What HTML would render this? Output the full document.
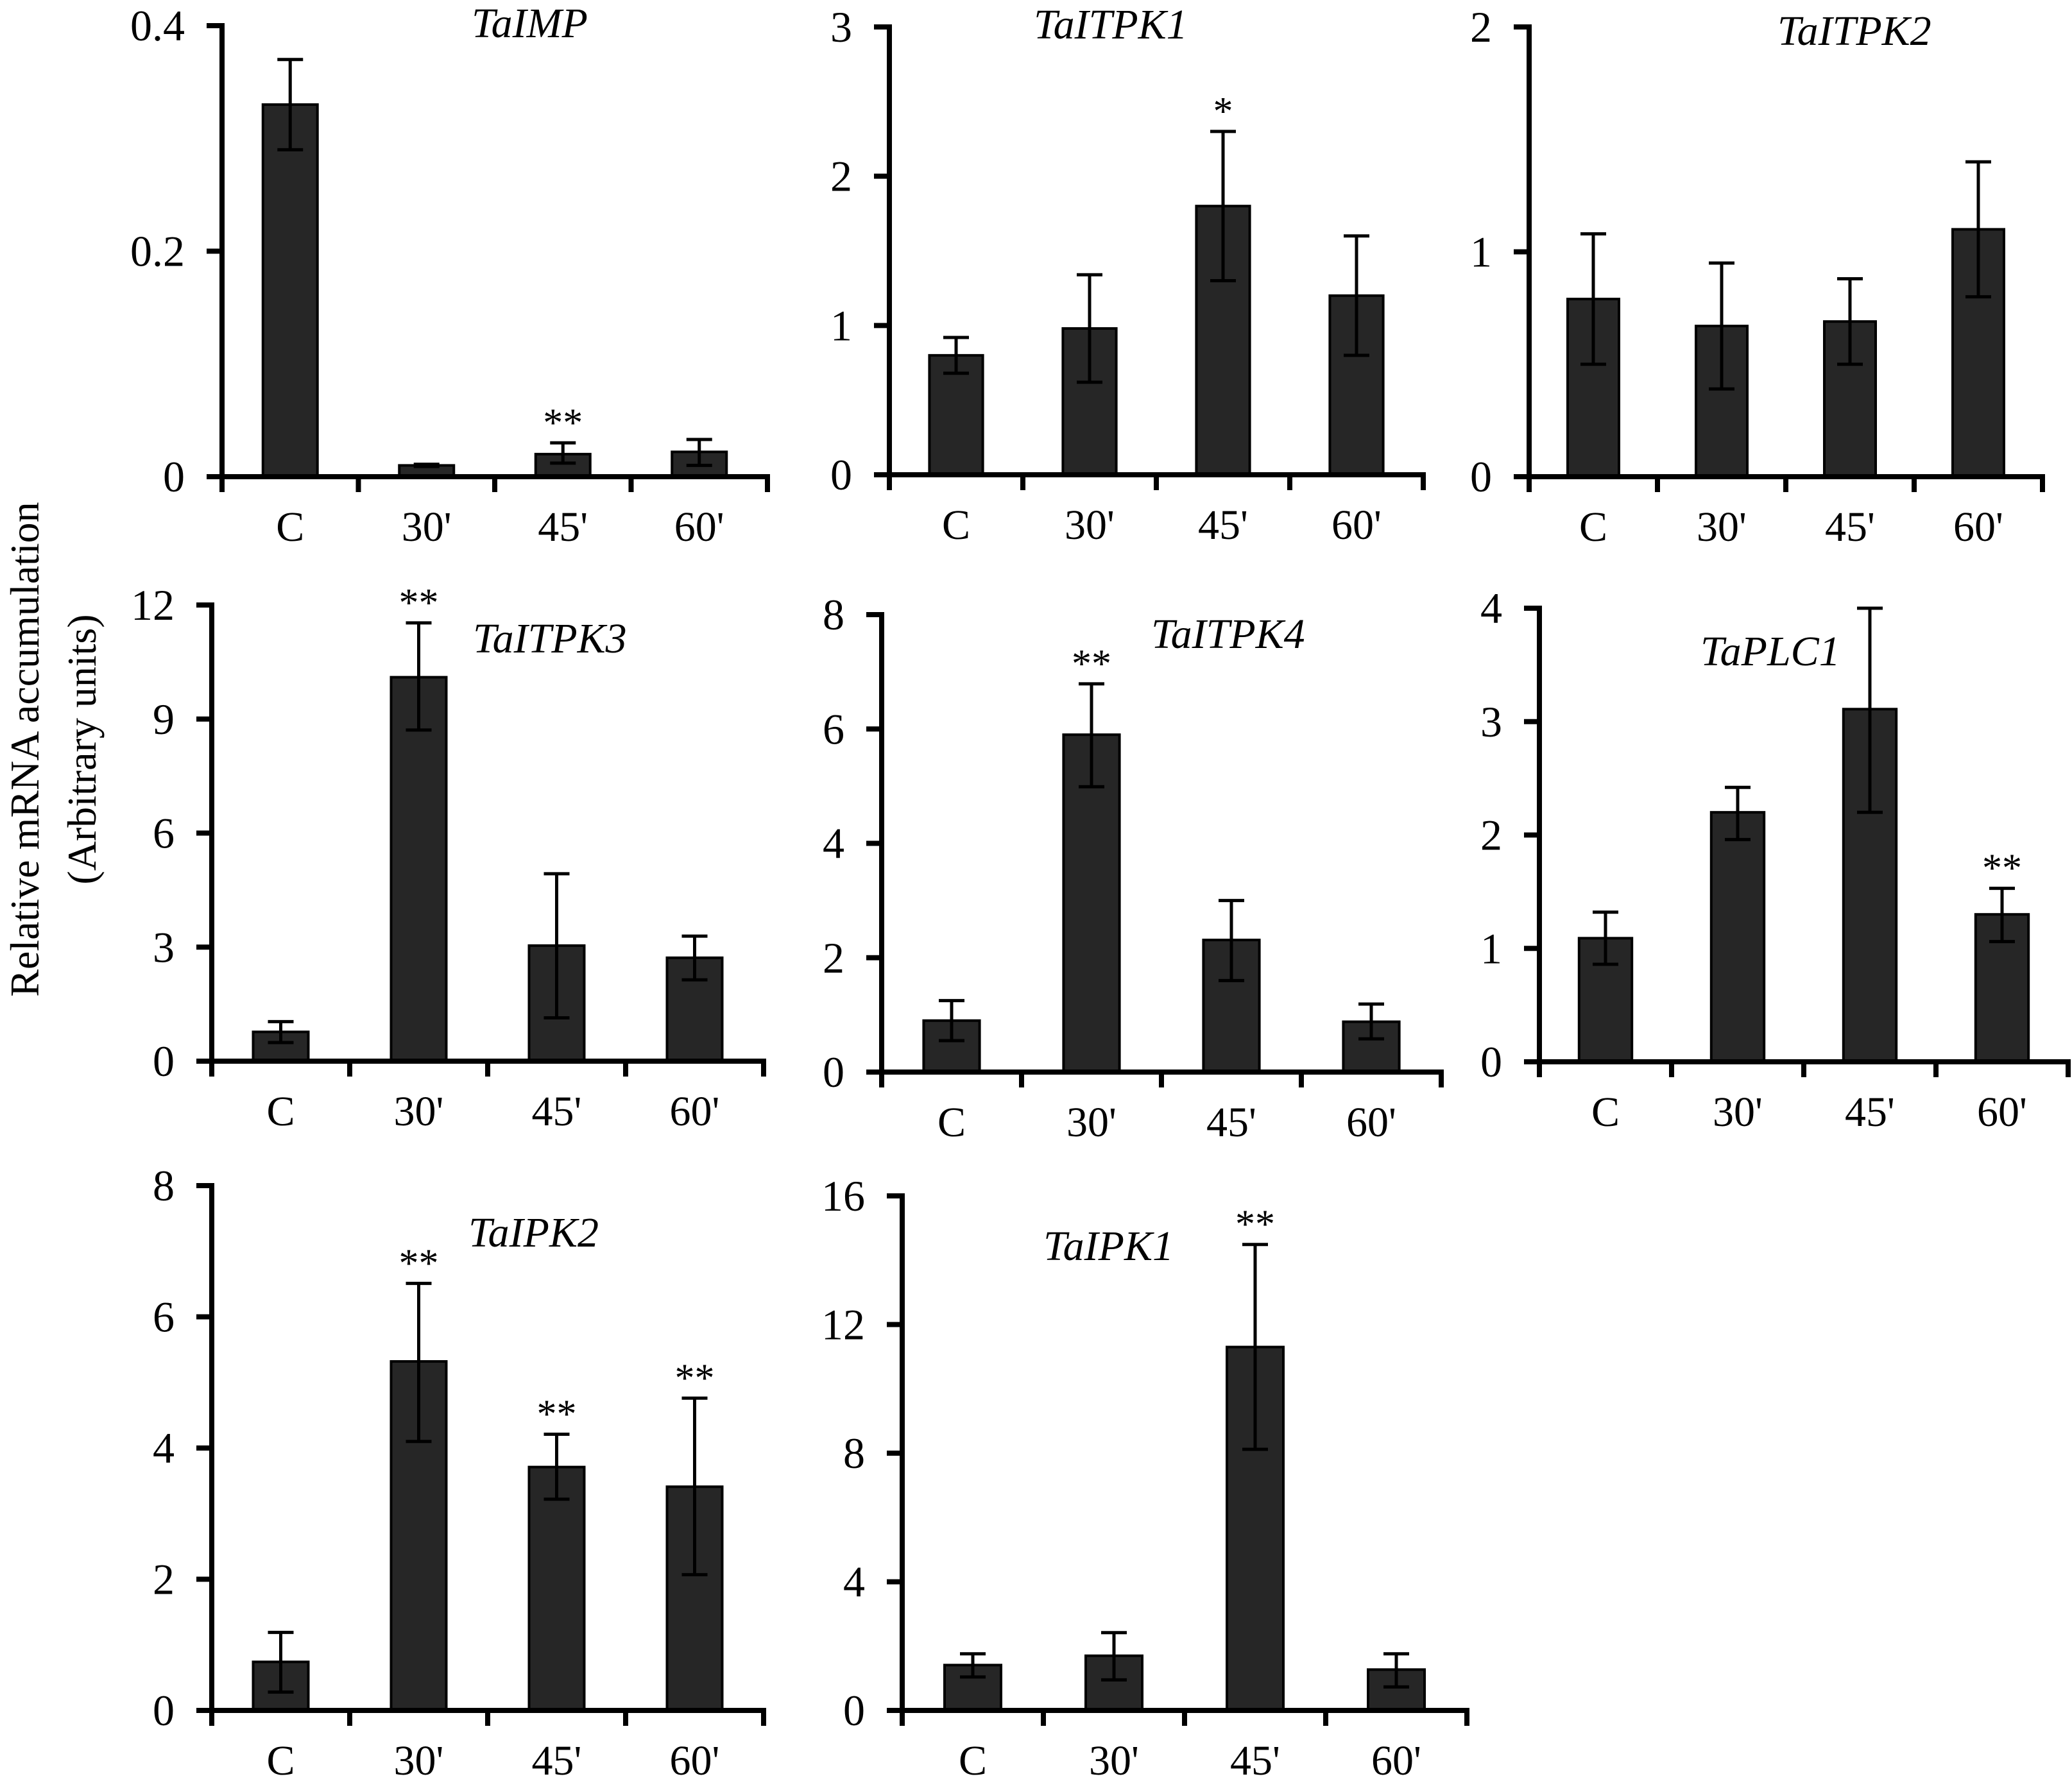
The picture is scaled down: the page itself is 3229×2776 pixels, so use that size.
<!DOCTYPE html>
<html><head><meta charset="utf-8"><style>
html,body{margin:0;padding:0;background:#fff;}
svg{display:block;font-family:"Liberation Serif",serif;}
</style></head><body>
<svg id="fig" width="3229" height="2776" viewBox="0 0 3229 2776" xmlns="http://www.w3.org/2000/svg">
<rect width="3229" height="2776" fill="#fff"/>
<g font-size="64" text-anchor="middle" fill="#000">
<text transform="translate(60,1168) rotate(-90)">Relative mRNA accumulation</text>
<text transform="translate(149,1168) rotate(-90)">(Arbitrary units)</text>
</g>
</svg>
<script>
const categories = ["C","30'","45'","60'"];
const genes = ["TaIMP","TaITPK1","TaITPK2","TaITPK3","TaITPK4","TaPLC1","TaIPK2","TaIPK1"];
const yMax = [0.4,3,2,12,8,4,8,16];
const yTicks = [[0,0.2,0.4],[0,1,2,3],[0,1,2],[0,3,6,9,12],[0,2,4,6,8],[0,1,2,3,4],[0,2,4,6,8],[0,4,8,12,16]];
const yTickLabels = [["0","0.2","0.4"],["0","1","2","3"],["0","1","2"],["0","3","6","9","12"],["0","2","4","6","8"],["0","1","2","3","4"],["0","2","4","6","8"],["0","4","8","12","16"]];
const means = [
 [0.33,0.010,0.020,0.022],
 [0.80,0.98,1.80,1.20],
 [0.79,0.67,0.69,1.10],
 [0.77,10.1,3.04,2.72],
 [0.90,5.90,2.31,0.88],
 [1.09,2.20,3.11,1.30],
 [0.74,5.32,3.71,3.41],
 [1.41,1.70,11.30,1.27]];
const errHigh = [
 [0.37,0.011,0.030,0.033],
 [0.92,1.34,2.30,1.60],
 [1.08,0.95,0.88,1.40],
 [1.04,11.53,4.93,3.29],
 [1.25,6.79,3.00,1.19],
 [1.32,2.42,4.00,1.53],
 [1.19,6.51,4.21,4.76],
 [1.76,2.42,14.49,1.76]];
const errLow = [
 [0.29,0.009,0.012,0.010],
 [0.68,0.62,1.30,0.80],
 [0.50,0.39,0.50,0.80],
 [0.49,8.71,1.14,2.14],
 [0.55,4.99,1.60,0.58],
 [0.86,1.96,2.20,1.06],
 [0.28,4.10,3.22,2.07],
 [1.04,0.95,8.12,0.73]];
const stars = [
 ["","","**",""],["","","*",""],["","","",""],["","**","",""],
 ["","**","",""],["","","","**"],["","**","**","**"],["","","**",""]];

// layout (pixels)
const axX   = [346,1386,2383,330,1374,2399,330,1406];
const topY  = [40,42,42,943,958,948,1848,1864];
const zeroY = [743,740,743,1654,1671,1655,2666,2666];
const step  = [212.5,208,200,215,218,206,215,220];
const titleX = [735,1611,2770,737,1794,2650,730,1626];
const titleY = [58,60,70,1017,1010,1037,1943,1964];

const NS="http://www.w3.org/2000/svg";
const svg=document.getElementById('fig');
function mk(tag,attrs,parent){const e=document.createElementNS(NS,tag);for(const k in attrs)e.setAttribute(k,attrs[k]);parent.appendChild(e);return e;}

genes.forEach((g,p)=>{
  const grp=mk('g',{},svg);
  
  
  const y=v=>zeroY[p]-v/yMax[p]*(zeroY[p]-topY[p]);
  const x0=axX[p], s=step[p], xEnd=x0+4*s;
  means[p].forEach((m,i)=>{
    const cx=x0+(i+0.5)*s, w=0.4*s;
    const r=mk('rect',{x:cx-w/2,y:y(m),width:w,height:zeroY[p]-y(m),fill:'#262626',stroke:'#000','stroke-width':4},grp);
    
    
    const eb=mk('path',{d:`M${cx},${y(errLow[p][i])}V${y(errHigh[p][i])}M${cx-20},${y(errHigh[p][i])}H${cx+20}M${cx-20},${y(errLow[p][i])}H${cx+20}`,stroke:'#000','stroke-width':5,fill:'none'},grp);
    
    
    if(stars[p][i]){
      const t=mk('text',{x:cx,y:y(errHigh[p][i])-40+29,'font-size':62,'text-anchor':'middle'},grp);
      t.textContent=stars[p][i];
      
      
    }
    const cl=mk('text',{x:cx,y:zeroY[p]+100,'font-size':66,'text-anchor':'middle'},grp);
    cl.textContent=categories[i];
    
    
  });
  const ax=mk('path',{d:`M${x0},${topY[p]}V${zeroY[p]}H${xEnd}`,stroke:'#000','stroke-width':8,fill:'none','stroke-linecap':'square'},grp);
  
  
  let td='';
  for(let i=0;i<=4;i++){td+=`M${x0+i*s},${zeroY[p]}v24`;}
  yTicks[p].forEach(v=>{td+=`M${x0},${y(v)}h-24`;});
  const tk=mk('path',{d:td,stroke:'#000','stroke-width':8,fill:'none'},grp);
  
  
  yTicks[p].forEach((v,k)=>{
    const t=mk('text',{x:x0-58,y:y(v)+23,'font-size':68,'text-anchor':'end'},grp);
    t.textContent=yTickLabels[p][k];
    
    
  });
  const tt=mk('text',{x:titleX[p],y:titleY[p],'font-size':66,'font-style':'italic'},grp);
  tt.textContent=g;
  
  
});
</script>
</body></html>
